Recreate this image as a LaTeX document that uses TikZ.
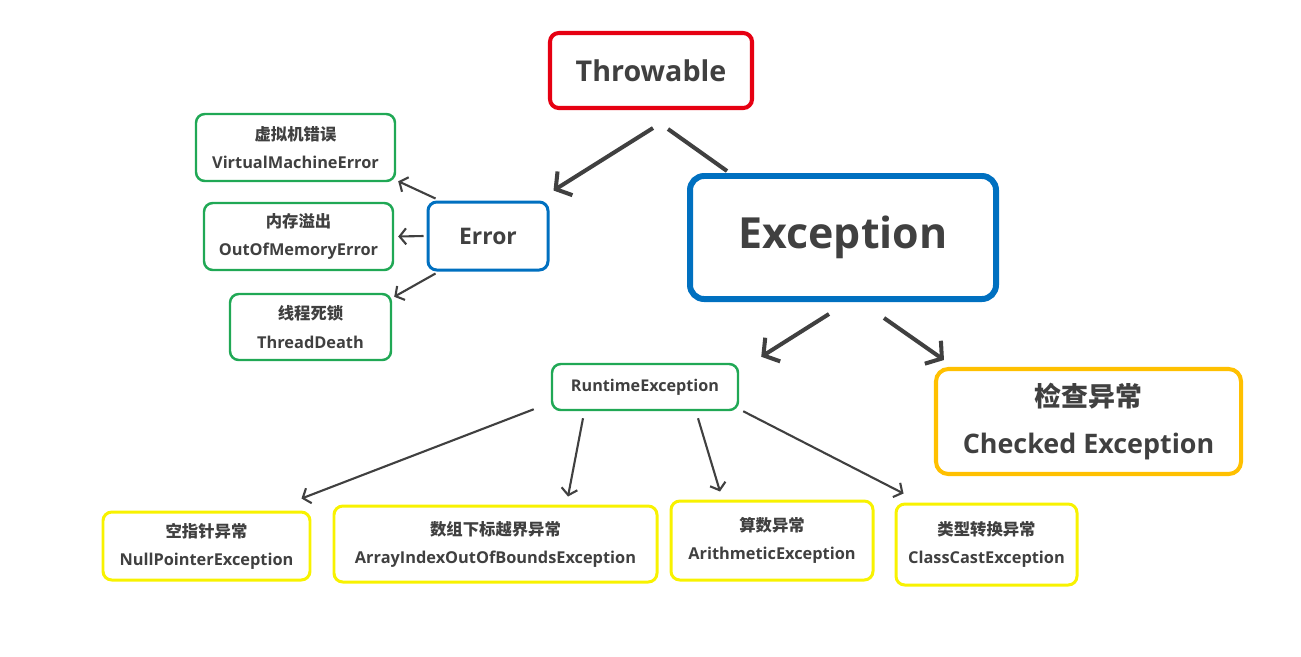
\documentclass[tikz,border=0pt]{standalone}
\usepackage{fontspec}
\setmainfont{Open Sans}[BoldFont={Open Sans Bold}]
\newfontfamily\cjk{Noto Sans CJK SC Bold}
\usepackage{xcolor}
\usepackage{tikz}
\usetikzlibrary{arrows.meta,positioning}
\definecolor{textgray}{HTML}{404040}
\definecolor{linegray}{HTML}{404040}
\definecolor{boxred}{HTML}{E60012}
\definecolor{boxblue}{HTML}{0070C0}
\definecolor{boxgreen}{HTML}{20A855}
\definecolor{boxorange}{HTML}{FFC000}
\definecolor{boxyellow}{HTML}{F8F200}
\tikzset{
  box/.style={
    rectangle,
    draw,
    rounded corners=5pt,
    align=center,
    fill=white,
    text=textgray,
    font=\bfseries
  },
  arrow/.style={
    -{Straight Barb[length=2.2mm,width=5.6mm]},
    line width=2.3pt,
    draw=linegray
  },
  thinarrow/.style={
    -{Straight Barb[length=1.3mm,width=3.2mm]},
    line width=1.2pt,
    draw=linegray
  }
}

\begin{document}
\begin{tikzpicture}[
  root_block/.style={box, draw=boxred, line width=2.3pt, minimum width=4.04cm, minimum height=1.5cm, font=\bfseries\fontsize{16.3}{19}\selectfont},
  main_block/.style={box, draw=boxblue, line width=3.4pt, rounded corners=8pt, minimum width=6.12cm, minimum height=2.46cm, font=\bfseries\fontsize{24.4}{29}\selectfont},
  error_block/.style={box, draw=boxblue, line width=1.7pt, minimum width=2.4cm, minimum height=1.36cm, font=\bfseries\fontsize{13}{15}\selectfont},
  error_kind/.style={box, draw=boxgreen, line width=1.4pt, minimum height=1.34cm, font=\bfseries\fontsize{9.3}{16}\selectfont},
  checked_block/.style={box, draw=boxorange, line width=2.3pt, rounded corners=7pt, minimum width=6.1cm, minimum height=2.1cm, font=\bfseries\fontsize{15.3}{27}\selectfont},
  runtime_kind/.style={box, draw=boxyellow, line width=1.7pt, font=\bfseries\fontsize{9.3}{16}\selectfont}
]
\useasboundingbox (0,0) rectangle (26.02,-13.12);

% Root
\node[root_block] (throwable) at (13.02, -1.41) {Throwable};

% Second level
\node[error_block] (error) at (9.76, -4.72) {Error};
\node[main_block] (exception) at (16.86, -4.75) {Exception};

% Kinds of error
\node[error_kind, minimum width=3.98cm] (vme) at (5.91, -2.95) {{\cjk 虚拟机错误}\\VirtualMachineError};
\node[error_kind, minimum width=3.78cm] (oom) at (5.97, -4.73) {{\cjk 内存溢出}\\OutOfMemoryError};
\node[error_kind, minimum width=3.22cm, minimum height=1.32cm] (death) at (6.21, -6.54) {{\cjk 线程死锁}\\ThreadDeath};

% Kinds of exception
\node[box, draw=boxgreen, line width=1.4pt, minimum width=3.72cm, minimum height=0.92cm, font=\bfseries\fontsize{9.2}{11}\selectfont] (runtime) at (12.9, -7.74) {RuntimeException};
\node[checked_block] (checked) at (21.77, -8.43) {{\cjk 检查异常}\\Checked Exception};

% Runtime exceptions
\node[runtime_kind, minimum width=4.14cm, minimum height=1.36cm] (npe) at (4.13, -10.92) {{\cjk 空指针异常}\\NullPointerException};
\node[runtime_kind, minimum width=6.46cm, minimum height=1.52cm] (bounds) at (9.91, -10.88) {{\cjk 数组下标越界异常}\\ArrayIndexOutOfBoundsException};
\node[runtime_kind, minimum width=4.04cm, minimum height=1.58cm] (arith) at (15.44, -10.81) {{\cjk 算数异常}\\ArithmeticException};
\node[runtime_kind, minimum width=3.62cm, minimum height=1.62cm] (cast) at (19.73, -10.89) {{\cjk 类型转换异常}\\ClassCastException};

% Throwable to its children
\draw[arrow] ([shift={(0.04,-0.36)}]throwable.south) -- ([shift={(0.08,0.2)}]error.north east);
\draw[line width=2.3pt, draw=linegray] ([shift={(0.34,-0.38)}]throwable.south) -- ([shift={(0.8,0.04)}]exception.north west);

% Error to its kinds
\draw[thinarrow] ([shift={(0.18,0.04)}]error.north west) -- ([shift={(0.04,0.02)}]vme.south east);
\draw[thinarrow] ([xshift=-0.06cm]error.west) -- ([xshift=0.08cm]oom.east);
\draw[thinarrow] ([shift={(0.18,-0.04)}]error.south west) -- ([shift={(0.04,-0.08)}]death.north east);

% Exception to its kinds
\draw[arrow] ([shift={(-0.28,-0.24)}]exception.south) -- ([shift={(0.44,0.12)}]runtime.north east);
\draw[arrow] ([shift={(0.82,-0.32)}]exception.south) -- ([shift={(0.2,0.14)}]checked.north west);

% RuntimeException to its kinds
\draw[thinarrow] ([shift={(-0.34,0.04)}]runtime.south west) -- ([shift={(-0.2,0.24)}]npe.north east);
\draw[thinarrow] ([shift={(-1.24,-0.14)}]runtime.south) -- ([shift={(1.45,0.16)}]bounds.north);
\draw[thinarrow] ([shift={(1.06,-0.14)}]runtime.south) -- ([shift={(-1.04,0.16)}]arith.north);
\draw[thinarrow] ([shift={(0.08,0)}]runtime.south east) -- ([shift={(0.18,0.18)}]cast.north west);

\end{tikzpicture}
\end{document}
